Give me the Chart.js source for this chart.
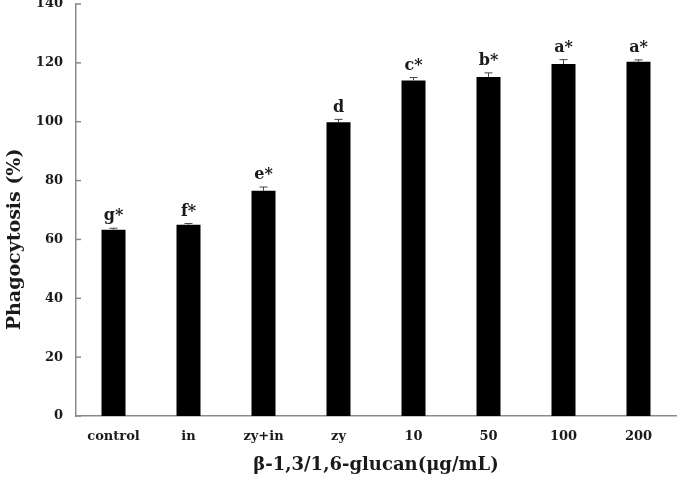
<!DOCTYPE html>
<html>
<head>
<meta charset="utf-8">
<script src="https://cdn.jsdelivr.net/npm/chart.js@4/dist/chart.umd.min.js"></script>
<style>
  html, body { margin: 0; padding: 0; background: #fff; }
  #wrap { width: 687px; height: 478px; position: relative; }
</style>
</head>
<body>
<div id="wrap"><canvas id="myChart"></canvas></div>
<script>
let groupNames = ['control', 'in', 'zy+in', 'zy', '10', '50', '100', '200'];
let phagocytosis = [63.3, 65.0, 76.5, 99.8, 114.0, 115.2, 119.6, 120.4];
let errorBars = [0.5, 0.4, 1.3, 1.0, 1.0, 1.4, 1.5, 0.6];
let letters = ['g*', 'f*', 'e*', 'd', 'c*', 'b*', 'a*', 'a*'];
let yTicks = [0, 20, 40, 60, 80, 100, 120, 140];
let yTitle = 'Phagocytosis (%)';

const serif = '"DejaVu Serif", "Liberation Serif", serif';
const axisGray = '#8a8a8a';

// error bars + significance letters on top of each bar
const errorBarPlugin = {
    id: 'errorBars',
    afterDatasetsDraw(chart) {
        const ctx = chart.ctx;
        const yScale = chart.scales.y;
        const meta = chart.getDatasetMeta(0);
        ctx.save();
        meta.data.forEach(function(bar, i) {
            const top = yScale.getPixelForValue(phagocytosis[i] + errorBars[i]);
            const base = yScale.getPixelForValue(phagocytosis[i]);
            ctx.strokeStyle = '#444';
            ctx.lineWidth = 1;
            ctx.beginPath();
            ctx.moveTo(bar.x, base);
            ctx.lineTo(bar.x, top);
            ctx.moveTo(bar.x - 4, top);
            ctx.lineTo(bar.x + 4, top);
            ctx.stroke();

            ctx.fillStyle = '#1a1a1a';
            ctx.font = 'bold 16px ' + serif;
            ctx.textAlign = 'center';
            ctx.textBaseline = 'bottom';
            ctx.fillText(letters[i], bar.x, top - 4);
        });
        ctx.restore();
    }
};

// inward y ticks, plus the y title which sits a bit below the middle in the original
const yAxisExtras = {
    id: 'yAxisExtras',
    afterDraw(chart) {
        const ctx = chart.ctx;
        const yScale = chart.scales.y;
        const x0 = chart.chartArea.left;
        ctx.save();
        ctx.strokeStyle = axisGray;
        ctx.lineWidth = 1.5;
        yTicks.forEach(function(v) {
            const y = yScale.getPixelForValue(v);
            ctx.beginPath();
            ctx.moveTo(x0, y);
            ctx.lineTo(x0 + 5, y);
            ctx.stroke();
        });

        ctx.translate(15, yScale.getPixelForValue(60));
        ctx.rotate(-Math.PI / 2);
        ctx.fillStyle = '#1a1a1a';
        ctx.font = 'bold 19px ' + serif;
        ctx.textAlign = 'center';
        ctx.textBaseline = 'middle';
        ctx.fillText(yTitle, 0, 0);
        ctx.restore();
    }
};

let chartElement = document.getElementById('myChart').getContext('2d');

let myChart = new Chart(chartElement, {
    type: 'bar',
    data: {
        labels: groupNames,
        datasets: [{
            data: phagocytosis,
            backgroundColor: '#000',
            borderWidth: 0,
            barPercentage: 0.32,
            categoryPercentage: 1.0
        }]
    },
    options: {
        responsive: true,
        maintainAspectRatio: false,
        animation: false,
        layout: { padding: { top: 4, right: 11, left: 0, bottom: 0 } },
        plugins: {
            legend: { display: false },
            tooltip: { enabled: false }
        },
        scales: {
            x: {
                grid: { display: false, drawTicks: false },
                border: { color: axisGray, width: 1.5 },
                ticks: {
                    color: '#1a1a1a',
                    padding: 13,
                    font: { family: serif, size: 13, weight: 'bold' }
                },
                title: {
                    display: true,
                    text: 'β-1,3/1,6-glucan(μg/mL)',
                    color: '#1a1a1a',
                    font: { family: serif, size: 18, weight: 'bold' },
                    padding: { top: 0, bottom: 2 }
                },
                afterFit(scale) {
                    scale.height = 62;
                    scale.paddingLeft = 0;
                    scale.paddingRight = 0;
                }
            },
            y: {
                min: 0,
                max: 140,
                grid: { display: false, drawTicks: false },
                border: { color: axisGray, width: 1.5 },
                ticks: {
                    stepSize: 20,
                    color: '#1a1a1a',
                    padding: 13,
                    font: { family: serif, size: 13, weight: 'bold' }
                },
                title: { display: false },
                afterFit(scale) {
                    scale.width = 76;
                    scale.paddingTop = 0;
                    scale.paddingBottom = 0;
                }
            }
        }
    },
    plugins: [errorBarPlugin, yAxisExtras]
});
</script>
</body>
</html>
